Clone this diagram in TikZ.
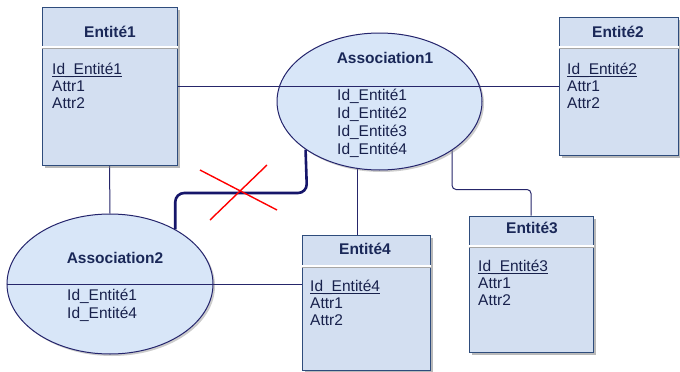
\documentclass[tikz,border=0pt]{standalone}
\usepackage{fontspec}
\setmainfont{Liberation Sans}
\usetikzlibrary{shapes.geometric,shadows,calc}
\pgfdeclarelayer{background}
\pgfsetlayers{background,main}
\definecolor{boxfill}{HTML}{D3DFF1}
\definecolor{boxdraw}{HTML}{2E4C7C}
\definecolor{ellfill}{HTML}{D8E6F8}
\definecolor{elldraw}{HTML}{24246C}
\definecolor{titlecol}{HTML}{1A2858}
\definecolor{attrcol}{HTML}{18214C}
\definecolor{linecol}{HTML}{26266A}
\definecolor{thickcol}{HTML}{16166A}
\newcommand\myul[1]{\setbox0\hbox{#1}\rlap{\rule[-3.3pt]{\wd0}{1.1pt}}\box0}
\begin{document}
\begin{tikzpicture}[x=1pt,y=-1pt,
  entity/.style={draw=boxdraw, fill=boxfill, line width=1pt, inner sep=0pt,
    drop shadow={shadow xshift=2.5pt, shadow yshift=-2.5pt, fill=black!50, opacity=.55}},
  assoc/.style={ellipse, draw=elldraw, fill=ellfill, line width=1pt, inner sep=0pt,
    drop shadow={shadow xshift=2pt, shadow yshift=-2pt, fill=black!50, opacity=.4}},
  ttl/.style={font=\fontsize{15.5}{18}\selectfont\bfseries, text=titlecol, inner sep=0pt, anchor=base},
  attr/.style={font=\fontsize{15.5}{17}\selectfont, text=attrcol, inner sep=0pt, anchor=base west},
  link/.style={draw=linecol, line width=1pt},
  sepw/.style={draw=white, line width=1.3pt},
  sepg/.style={draw=black!35, line width=1pt},
  cross/.style={draw=red, line width=1.4pt}
]
\useasboundingbox (0,0) rectangle (680,372);
\begin{pgfonlayer}{background}
  \fill[white] (0,0) rectangle (680,372);
\end{pgfonlayer}

% entities
\node[entity, minimum width=135pt, minimum height=158pt] (e1) at (109.5,86) {};
\node[entity, minimum width=119pt, minimum height=138pt] (e2) at (618.5,86) {};
\node[entity, minimum width=124pt, minimum height=136pt] (e3) at (531,284) {};
\node[entity, minimum width=128pt, minimum height=135pt] (e4) at (366,302.5) {};

% associations
\node[assoc, minimum width=205pt, minimum height=137pt] (a1) at (379.5,101.5) {};
\node[assoc, minimum width=206pt, minimum height=140pt] (a2) at (110,284) {};

% header separators
\foreach \n/\y in {e1/47, e2/47, e3/246, e4/266} {
  \draw[sepw] (\n.west |- 0,\y) -- (\n.east |- 0,\y);
  \draw[sepg] (\n.west |- 0,\y+1.5) -- (\n.east |- 0,\y+1.5);
}

% connectors behind
\coordinate (c4) at ($(e4.north)+(-9,0)$);
\coordinate (k) at (307,193);
\begin{pgfonlayer}{background}
  \draw[link] (e1.south) -- (a2.north);
  \draw[link] (c4) -- (c4 |- a1.center);
  \draw[link, rounded corners=4pt] (a1.-34) |- ($(e3.north)+(0,-26)$) -- (e3.north);
  \draw[draw=thickcol, line width=2.6pt, rounded corners=9pt] (a2.40) |- (k) -- (a1.213);
\end{pgfonlayer}

% connectors over the ellipses
\draw[link] (e1.east) -- (e2.west);
\draw[link] (a2.west) -- (a2.west -| e4.west);

% titles
\node[ttl] (t1) at (110,37) {Entité1};
\node[ttl] (t2) at (618,37) {Entité2};
\node[ttl] (t3) at (532,233) {Entité3};
\node[ttl] (t4) at (365,254) {Entité4};
\node[ttl] (ta1) at (385,63) {Association1};
\node[ttl] (ta2) at (115,263) {Association2};

% entity attributes
\node[attr] (e1a) at (52,74) {\myul{Id\_Entité1}};
\node[attr] (e1b) at (52,91) {Attr1};
\node[attr] (e1c) at (52,108) {Attr2};
\node[attr] (e2a) at (567,74) {\myul{Id\_Entité2}};
\node[attr] (e2b) at (567,91) {Attr1};
\node[attr] (e2c) at (567,108) {Attr2};
\node[attr] (e3a) at (478,271) {\myul{Id\_Entité3}};
\node[attr] (e3b) at (478,288) {Attr1};
\node[attr] (e3c) at (478,305) {Attr2};
\node[attr] (e4a) at (310,291) {\myul{Id\_Entité4}};
\node[attr] (e4b) at (310,308) {Attr1};
\node[attr] (e4c) at (310,325) {Attr2};

% association attributes
\node[attr] (a1a) at (337,100) {Id\_Entité1};
\node[attr] (a1b) at (337,118) {Id\_Entité2};
\node[attr] (a1c) at (337,136) {Id\_Entité3};
\node[attr] (a1d) at (337,154) {Id\_Entité4};
\node[attr] (a2a) at (67,300) {Id\_Entité1};
\node[attr] (a2b) at (67,318) {Id\_Entité4};

% red cross
\draw[cross] (200,170) -- (277,210);
\draw[cross] (267,165) -- (210,220);
\end{tikzpicture}
\end{document}
